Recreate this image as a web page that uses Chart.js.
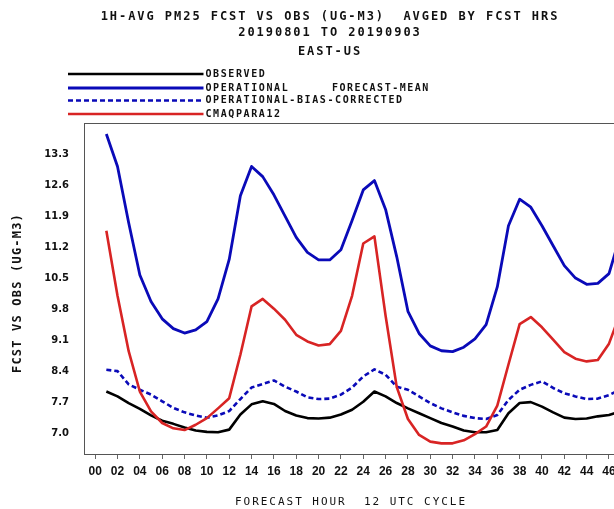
<!DOCTYPE html>
<html>
<head>
<meta charset="utf-8">
<title>PM25 forecast vs obs</title>
<script src="https://cdn.jsdelivr.net/npm/chart.js@4.4.0/dist/chart.umd.min.js"></script>
<style>
  html, body { margin: 0; padding: 0; background: #fff; overflow: hidden; }
  #wrap { width: 614px; height: 509px; overflow: hidden; }
  canvas { display: block; }
</style>
</head>
<body>
<div id="wrap"><canvas id="pmChart" width="660" height="509"></canvas></div>
<script>
// Values, forecast hours 1..48 (47/48 fall off the right edge)
const hours = [1, 2, 3, 4, 5, 6, 7, 8, 9, 10, 11, 12, 13, 14, 15, 16, 17, 18, 19, 20, 21, 22, 23, 24,
    25, 26, 27, 28, 29, 30, 31, 32, 33, 34, 35, 36, 37, 38, 39, 40, 41, 42, 43, 44, 45, 46, 47, 48];

const observed = [7.94, 7.83, 7.68, 7.55, 7.40, 7.28, 7.21, 7.13, 7.06, 7.03, 7.02, 7.08,
    7.42, 7.65, 7.72, 7.66, 7.50, 7.40, 7.34, 7.33, 7.35, 7.42, 7.53, 7.71,
    7.94, 7.83, 7.68, 7.56, 7.45, 7.34, 7.23, 7.15, 7.06, 7.02, 7.02, 7.07,
    7.45, 7.68, 7.70, 7.60, 7.47, 7.35, 7.32, 7.33, 7.38, 7.41, 7.49, 7.55];

const operational = [13.75, 13.02, 11.75, 10.57, 9.97, 9.58, 9.36, 9.26, 9.33, 9.52, 10.03, 10.92,
    12.36, 13.02, 12.79, 12.38, 11.90, 11.42, 11.08, 10.91, 10.91, 11.14, 11.80, 12.49,
    12.70, 12.05, 10.98, 9.75, 9.25, 8.97, 8.86, 8.84, 8.94, 9.13, 9.45, 10.30,
    11.68, 12.28, 12.10, 11.68, 11.23, 10.78, 10.50, 10.36, 10.38, 10.60, 11.45, 11.90];

const biasCorrected = [8.43, 8.40, 8.10, 7.98, 7.87, 7.72, 7.57, 7.47, 7.40, 7.35, 7.40, 7.50,
    7.77, 8.03, 8.11, 8.19, 8.05, 7.94, 7.81, 7.77, 7.78, 7.87, 8.03, 8.28,
    8.44, 8.32, 8.05, 7.98, 7.83, 7.68, 7.56, 7.47, 7.39, 7.34, 7.32, 7.41,
    7.75, 7.98, 8.09, 8.17, 8.02, 7.90, 7.83, 7.77, 7.78, 7.86, 7.98, 8.05];

const cmaqPara12 = [11.57, 10.10, 8.85, 7.94, 7.49, 7.23, 7.11, 7.07, 7.19, 7.34, 7.56, 7.79,
    8.77, 9.86, 10.03, 9.81, 9.56, 9.22, 9.07, 8.98, 9.01, 9.31, 10.10, 11.28,
    11.44, 9.65, 8.04, 7.32, 6.96, 6.81, 6.77, 6.77, 6.84, 6.98, 7.15, 7.62,
    8.55, 9.46, 9.62, 9.39, 9.11, 8.83, 8.68, 8.62, 8.65, 9.02, 9.70, 10.20];

const yTicks = [7.0, 7.7, 8.4, 9.1, 9.8, 10.5, 11.2, 11.9, 12.6, 13.3];
const xTicks = [0, 2, 4, 6, 8, 10, 12, 14, 16, 18, 20, 22, 24, 26, 28, 30, 32, 34, 36, 38, 40, 42, 44, 46, 48];

const titleLines = ['1H-AVG PM25 FCST VS OBS (UG-M3)  AVGED BY FCST HRS', '20190801 TO 20190903', 'EAST-US'];
const seriesNames = ['OBSERVED', 'OPERATIONAL', 'OPERATIONAL-BIAS-CORRECTED', 'CMAQPARA12'];
const legendNote = 'FORECAST-MEAN';
const yTitle = 'FCST VS OBS (UG-M3)';
const xTitle = 'FORECAST HOUR  12 UTC CYCLE';

// Helpers
const toPoints = vals => hours.map((h, i) => ({ x: h, y: vals[i] }));
const pad2 = v => String(v).padStart(2, '0');

function drawSpaced(ctx, text, x, y, font, spacing, align) {
    ctx.save();
    ctx.font = font;
    ctx.letterSpacing = spacing + 'px';
    ctx.textAlign = align;
    ctx.textBaseline = 'middle';
    ctx.fillStyle = '#111';
    ctx.fillText(text, x, y);
    ctx.restore();
}

// Frame around the plot area
const framePlugin = {
    id: 'frame',
    afterDatasetsDraw(chart) {
        const a = chart.chartArea;
        const ctx = chart.ctx;
        ctx.save();
        ctx.strokeStyle = '#555';
        ctx.lineWidth = 1;
        ctx.strokeRect(a.left + 0.5, a.top + 0.5, a.right - a.left, a.bottom - a.top);
        ctx.restore();
    }
};

// Titles, GrADS style legend and axis titles
const textPlugin = {
    id: 'texts',
    afterDraw(chart) {
        const ctx = chart.ctx;
        const titleFont = 'bold 12px "DejaVu Sans Mono"';
        const titleY = [16.5, 33, 51.5];
        titleLines.forEach((t, i) => drawSpaced(ctx, t, 330, titleY[i], titleFont, 1.95, 'center'));

        const rowY = [74, 88, 100.5, 114];
        const legendFont = 'bold 10px "DejaVu Sans Mono"';
        chart.data.datasets.forEach((ds, i) => {
            ctx.save();
            ctx.strokeStyle = ds.borderColor;
            ctx.lineWidth = ds.borderWidth;
            ctx.setLineDash(ds.borderDash || []);
            ctx.beginPath();
            ctx.moveTo(68, rowY[i]);
            ctx.lineTo(203.5, rowY[i]);
            ctx.stroke();
            ctx.restore();
            drawSpaced(ctx, seriesNames[i], 205.5, rowY[i], legendFont, 1.6, 'left');
        });
        drawSpaced(ctx, legendNote, 332, rowY[1], legendFont, 1.5, 'left');

        ctx.save();
        ctx.translate(18, 293);
        ctx.rotate(-Math.PI / 2);
        drawSpaced(ctx, yTitle, 0, 0, 'bold 12px "DejaVu Sans Mono"', 1.2, 'center');
        ctx.restore();

        drawSpaced(ctx, xTitle, 351, 502, '11px "DejaVu Sans Mono"', 1.97, 'center');
    }
};

new Chart(document.getElementById('pmChart').getContext('2d'), {
    type: 'line',
    data: {
        datasets: [
            { label: seriesNames[0], data: toPoints(observed), borderColor: '#000000', borderWidth: 2.6, order: 4 },
            { label: seriesNames[1], data: toPoints(operational), borderColor: '#0a0ab8', borderWidth: 2.8, order: 3 },
            { label: seriesNames[2], data: toPoints(biasCorrected), borderColor: '#0a0ab8', borderWidth: 2.6, borderDash: [5, 3], order: 2 },
            { label: seriesNames[3], data: toPoints(cmaqPara12), borderColor: '#d82424', borderWidth: 2.6, order: 1 }
        ]
    },
    options: {
        responsive: false,
        animation: false,
        devicePixelRatio: 1,
        layout: { padding: { top: 123, right: 17.5, left: 0, bottom: 0 } },
        elements: {
            point: { radius: 0, hoverRadius: 0 },
            line: { tension: 0, fill: false, borderJoinStyle: 'round' }
        },
        plugins: {
            legend: { display: false },
            title: { display: false },
            tooltip: { enabled: false }
        },
        scales: {
            x: {
                type: 'linear',
                min: -1,
                max: 49,
                afterFit: s => { s.height = 55; },
                afterBuildTicks: s => { s.ticks = xTicks.map(v => ({ value: v })); },
                ticks: {
                    autoSkip: false, maxRotation: 0, padding: 5, color: '#111',
                    font: { family: 'Liberation Sans', weight: 'bold', size: 12 },
                    callback: v => pad2(v)
                },
                grid: { drawOnChartArea: false, drawTicks: true, tickLength: 5, color: '#666' },
                border: { display: false }
            },
            y: {
                min: 6.53,
                max: 14.0,
                afterFit: s => { s.width = 84; },
                afterBuildTicks: s => { s.ticks = yTicks.map(v => ({ value: v })); },
                ticks: {
                    padding: 15, color: '#111',
                    font: { family: 'DejaVu Sans', weight: 'bold', size: 10 },
                    callback: v => v.toFixed(1)
                },
                grid: { display: false, drawTicks: false },
                border: { display: false }
            }
        }
    },
    plugins: [framePlugin, textPlugin]
});
</script>
</body>
</html>
